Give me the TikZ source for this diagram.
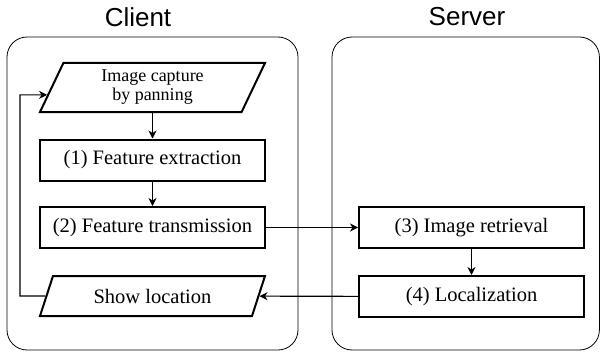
\documentclass[tikz,border=0pt]{standalone}
\usepackage{fontspec}
\setmainfont{Liberation Serif}
\newfontfamily\titlefont{Liberation Sans}
\usetikzlibrary{shapes.geometric,arrows.meta}

\begin{document}
\begin{tikzpicture}[x=1pt,y=-1pt,
  every node/.style={font=\fontsize{20.5}{24}\selectfont},
  side/.style={draw,line width=0.8pt,rounded corners=20pt},
  title/.style={font=\titlefont\fontsize{26}{30}\selectfont},
  stepbox/.style={draw,line width=2pt,minimum width=225pt,minimum height=41pt,inner sep=0pt},
  iobox/.style={draw,line width=2pt,trapezium,trapezium stretches body,inner sep=0pt},
  flow/.style={-{Stealth[length=8pt,width=8pt,inset=2.5pt]},line width=1.1pt}]
  \useasboundingbox (0,0) rectangle (600,353);

  \draw[side] (7,37) rectangle (298,350);
  \draw[side] (332,37) rectangle (599.4,350);
  \node[title] (client) at (138,17) {Client};
  \node[title] (server) at (467,17) {Server};

  \node[iobox,trapezium left angle=56,trapezium right angle=124,minimum width=225pt,minimum height=49pt,
    align=center,font=\fontsize{18}{19}\selectfont] (capture) at (152.5,87.5) {Image capture\\by panning};
  \node[stepbox] (extract) at (152.5,160) {(1) Feature extraction};
  \node[stepbox] (transmit) at (152.5,227.5) {(2) Feature transmission};
  \node[iobox,trapezium left angle=48,trapezium right angle=132,minimum width=225pt,minimum height=40pt]
    (show) at (152.5,296) {Show location};

  \node[stepbox] (retrieve) at (471.5,227.5) {(3) Image retrieval};
  \node[stepbox] (localize) at (471.5,296.5) {(4) Localization};

  \coordinate (back) at (20,296);
  \draw[flow] (capture) -- (extract);
  \draw[flow] (extract) -- (transmit);
  \draw[flow] (transmit) -- (retrieve);
  \draw[flow] (retrieve) -- (localize);
  \draw[flow] (localize) -- (show);
  \draw[flow] (show.west) -- (back) |- (capture.184);
\end{tikzpicture}
\end{document}
